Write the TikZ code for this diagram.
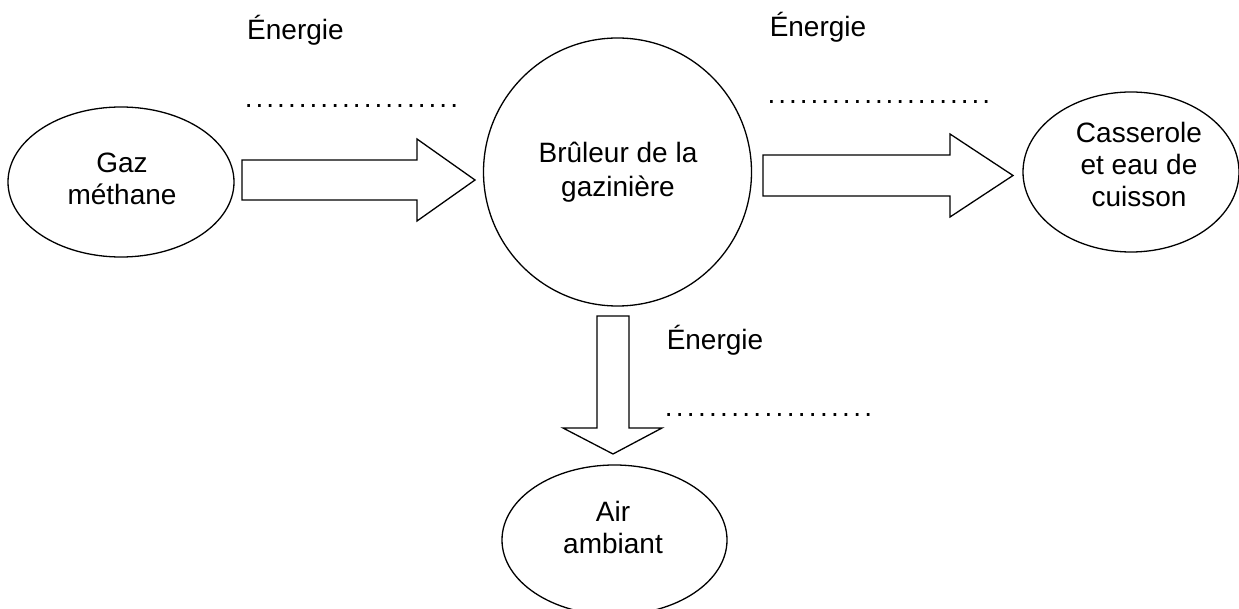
\documentclass[tikz,border=0pt]{standalone}
\usepackage{fontspec}
\setmainfont{Liberation Sans}
\usetikzlibrary{shapes.geometric}
\newcommand\mylines[1]{\begin{tabular}[t]{@{}c@{}}#1\end{tabular}}
\newcommand\dotrow[2]{\hbox to #1{\xleaders\hbox to #2{\hss.\hss}\hfill}}
\begin{document}
\begin{tikzpicture}[x=1pt,y=-1pt,line width=1.3pt,
  outline/.style={draw,inner sep=0pt,outer sep=0pt},
  txt/.style={anchor=base,inner sep=0pt,font=\fontsize{28}{32}\selectfont},
  dotstxt/.style={anchor=base west,inner sep=0pt,font=\fontsize{28}{32}\selectfont},
  blockarrow/.style={draw,line join=miter,fill=white}]
\useasboundingbox (0,0) rectangle (1239,609);
\clip (0,0) rectangle (1239,609);
\fill[white] (0,0) rectangle (1239,609);

% shapes
\node[outline,ellipse,minimum width=226pt,minimum height=150pt] (gaz) at (121,182) {};
\node[outline,circle,minimum size=268pt] (bruleur) at (617.5,172) {};
\node[outline,ellipse,minimum width=216pt,minimum height=160pt] (casserole) at (1131,172) {};
\node[outline,ellipse,minimum width=225pt,minimum height=150pt] (air) at (614.5,540) {};

% texts in shapes
\node[txt] (gazt) at (122,173) {\mylines{Gaz\\méthane}};
\node[txt,font=\fontsize{28}{33.5}\selectfont] (bruleurt) at (618,163) {\mylines{Brûleur de la\\gazinière}};
\node[txt] (casserolet) at (1139,143) {\mylines{Casserole\\et eau de\\cuisson}};
\node[txt] (airt) at (613,521) {\mylines{Air\\ambiant}};

% block arrows
\draw[blockarrow] (242,160) -- (417,160) -- (417,139) -- (475,180) -- (417,221) -- (417,200) -- (242,200) -- cycle;
\draw[blockarrow] (763,155) -- (950,155) -- (950,134) -- (1013,175.5) -- (950,217) -- (950,196) -- (763,196) -- cycle;
\draw[blockarrow] (597,316) -- (629,316) -- (629,428) -- (662,428) -- (613,454) -- (563,428) -- (597,428) -- cycle;

% labels
\node[txt] (e1) at (295.5,40) {Énergie};
\node[dotstxt] (d1) at (242.6,107.5) {\dotrow{216.3pt}{10.79pt}};
\node[txt] (e2) at (818,37) {Énergie};
\node[dotstxt] (d2) at (765.6,103.5) {\dotrow{225.2pt}{10.7pt}};
\node[txt] (e3) at (715,350) {Énergie};
\node[dotstxt] (d3) at (662.5,416.5) {\dotrow{210.6pt}{11.06pt}};
\end{tikzpicture}
\end{document}
